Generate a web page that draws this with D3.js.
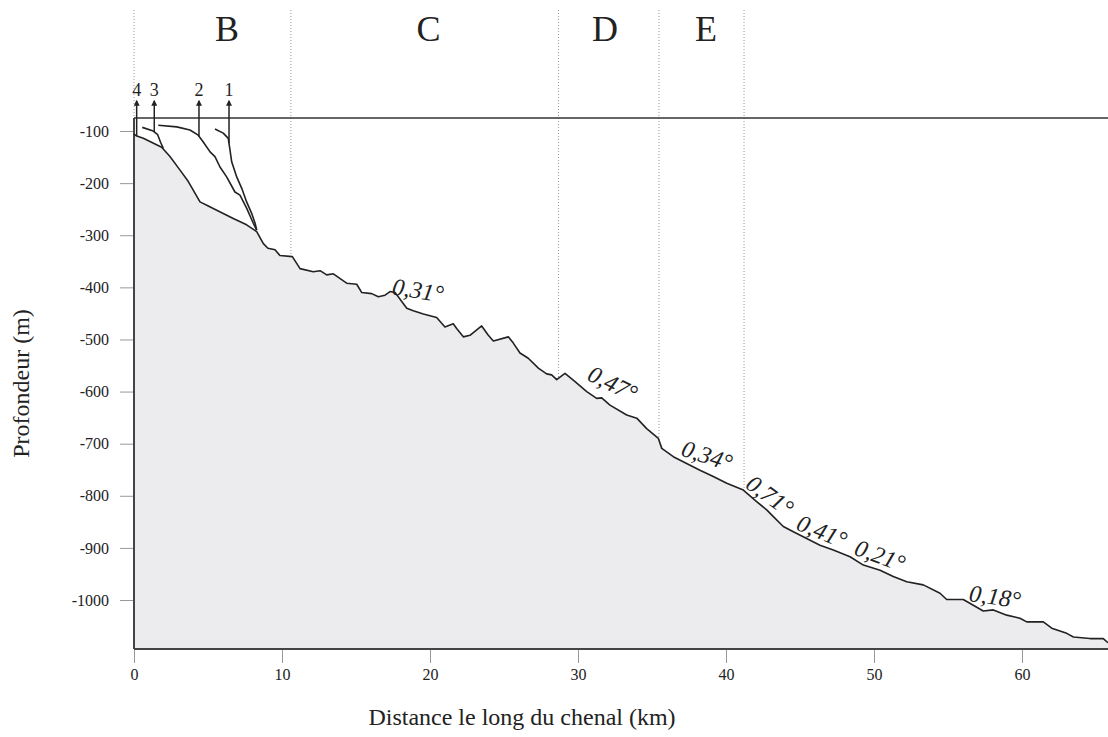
<!DOCTYPE html>
<html>
<head>
<meta charset="utf-8">
<script src="https://cdn.jsdelivr.net/npm/d3@7"></script>
<style>
  body { margin: 0; background: #fff; }
  text { font-family: "Liberation Serif", "Times New Roman", serif; fill: #222; }
</style>
</head>
<body>
<div id="chart"></div>
<script>
// Profile 4 (present-day channel floor), [km, depth m]
const profile4 = [
  [0, -106], [0.14, -109], [0.63, -114], [1.87, -131], [2.43, -149], [3.11, -175],
  [3.67, -197], [4.46, -236], [5.02, -244], [5.59, -252], [6.71, -268], [7.61, -280],
  [8.29, -293], [8.74, -316], [9.05, -325], [9.53, -328], [9.86, -339], [10.7, -341],
  [11.22, -364], [12.11, -370], [12.57, -368], [13.02, -376], [13.47, -374], [14.37, -392],
  [15.05, -394], [15.39, -410], [16.06, -412], [16.51, -418], [16.96, -415], [17.3, -408],
  [17.64, -410], [18.43, -440], [18.87, -445], [19.55, -451], [20.45, -458], [21.01, -476],
  [21.57, -470], [21.8, -479], [22.25, -495], [22.7, -492], [23.49, -474], [23.94, -492],
  [24.28, -503], [25.29, -495], [25.63, -507], [26.08, -526], [26.64, -536], [27.32, -555],
  [27.88, -566], [28.22, -568], [28.56, -577], [29.12, -565], [29.8, -581], [30.59, -600],
  [31.26, -613], [31.6, -612], [32.16, -626], [33.29, -645], [33.97, -651], [34.64, -671],
  [35.43, -690], [35.66, -709], [36.44, -725], [37.34, -738], [38.24, -751], [39.14, -763],
  [40.05, -776], [41.17, -789], [42.07, -811], [42.75, -827], [43.2, -840], [43.87, -859],
  [44.55, -869], [45.45, -882], [46.35, -895], [47.25, -904], [48.38, -917], [49.28, -933],
  [50.41, -943], [51.3, -955], [52.21, -965], [53.33, -971], [54.46, -987], [54.91, -999],
  [56.03, -999], [56.71, -1010], [57.38, -1021], [58.06, -1019], [58.97, -1029], [59.86, -1035],
  [60.32, -1042], [61.44, -1042], [62.01, -1054], [63.02, -1064], [63.47, -1071], [64.59, -1074],
  [65.49, -1074], [65.81, -1082]
];

// Older profiles 3, 2, 1 (they join profile 4 downstream)
const profile3 = [[0.56, -93], [1.3, -100], [1.6, -107], [1.8, -122], [1.98, -133]];
const profile2 = [
  [1.64, -89], [2.89, -92], [3.78, -98], [4.34, -108], [4.68, -121], [5.14, -140],
  [5.47, -149], [5.81, -169], [6.26, -188], [6.82, -217], [7.16, -223], [7.61, -248],
  [8.06, -277], [8.29, -290]
];
const profile1 = [
  [5.47, -96], [6.03, -104], [6.37, -114], [6.49, -137], [6.6, -159], [6.94, -188],
  [7.28, -210], [7.61, -236], [7.95, -258], [8.18, -277], [8.29, -290]
];

// Zones
const zoneBounds = [0, 10.6, 28.68, 35.47, 41.22];
const zoneLabels = ["B", "C", "D", "E"];
const zoneLabelKm = [6.28, 19.9, 31.82, 38.65];

// Arrows marking the head of each profile
const arrowLabels = ["4", "3", "2", "1"];
const arrowKm = [0.18, 1.37, 4.39, 6.42];
const arrowProfiles = [profile4, profile3, profile2, profile1];

// Slope labels
const slopeLabels = ["0,31°", "0,47°", "0,34°", "0,71°", "0,41°", "0,21°", "0,18°"];
const slopeKm = [19.19, 32.36, 38.72, 42.97, 46.49, 50.41, 58.18];
const slopeDepth = [-405, -584, -722, -799, -868, -914, -993];
const slopeRot = [9, 26, 18, 36, 22, 20, 8];

// Axis ticks
const xTicks = [0, 10, 20, 30, 40, 50, 60];
const yTicks = [-100, -200, -300, -400, -500, -600, -700, -800, -900, -1000];

const width = 1108, height = 737;
const margin = {top: 118, right: 0, bottom: 88, left: 134};

const svg = d3.select("#chart").append("svg")
  .attr("width", width)
  .attr("height", height);

const x = d3.scaleLinear().domain([0, 65.81]).range([margin.left, width - margin.right]);
const y = d3.scaleLinear().domain([-1094, -75]).range([height - margin.bottom, margin.top]);

function depthAt(prof, km) {
  const i = d3.bisector(d => d[0]).left(prof, km);
  if (i <= 0) return prof[0][1];
  if (i >= prof.length) return prof[prof.length - 1][1];
  const a = prof[i - 1], b = prof[i];
  return a[1] + (b[1] - a[1]) * (km - a[0]) / (b[0] - a[0]);
}

// Arrow marker
svg.append("defs").append("marker")
  .attr("id", "head")
  .attr("viewBox", "0 0 10 10")
  .attr("refX", 8).attr("refY", 5)
  .attr("markerWidth", 8).attr("markerHeight", 6)
  .attr("markerUnits", "userSpaceOnUse")
  .attr("orient", "auto")
  .append("path")
  .attr("d", "M0,0 L10,5 L0,10 Z")
  .attr("fill", "#222");

// Zone boundary dotted lines (from top down to the floor)
svg.append("g").selectAll("line")
  .data(zoneBounds)
  .join("line")
  .attr("x1", d => x(d)).attr("x2", d => x(d))
  .attr("y1", 10)
  .attr("y2", d => y(depthAt(profile4, d)))
  .attr("stroke", "#999")
  .attr("stroke-width", 1)
  .attr("stroke-dasharray", "1,2");

// Filled area under profile 4
const area = d3.area()
  .x(d => x(d[0]))
  .y0(y(-1094))
  .y1(d => y(d[1]));

svg.append("path")
  .datum(profile4)
  .attr("fill", "#ececee")
  .attr("d", area);

// Axes
const xAxis = svg.append("g")
  .attr("transform", `translate(0,${y(-1094)})`)
  .call(d3.axisBottom(x).tickValues(xTicks).tickSize(14).tickPadding(6).tickFormat(d => String(d)));
xAxis.select(".domain").remove();
xAxis.selectAll(".tick line").attr("stroke", "#999");
xAxis.selectAll(".tick text").attr("font-size", 16).attr("font-family", "Liberation Serif, serif").attr("fill", "#222");

const yAxis = svg.append("g")
  .attr("transform", `translate(${x(0)},0)`)
  .call(d3.axisLeft(y).tickValues(yTicks).tickSize(14).tickPadding(11).tickFormat(d => String(d)));
yAxis.select(".domain").remove();
yAxis.selectAll(".tick line").attr("stroke", "#999");
yAxis.selectAll(".tick text").attr("font-size", 16).attr("font-family", "Liberation Serif, serif").attr("fill", "#222");

// Frame lines: left, bottom, top
svg.append("line")
  .attr("x1", x(0)).attr("x2", x(0))
  .attr("y1", y(-75)).attr("y2", y(-1094))
  .attr("stroke", "#444").attr("stroke-width", 2);
svg.append("line")
  .attr("x1", x(0)).attr("x2", width)
  .attr("y1", y(-1094)).attr("y2", y(-1094))
  .attr("stroke", "#444").attr("stroke-width", 2);
svg.append("line")
  .attr("x1", x(0)).attr("x2", width)
  .attr("y1", y(-75)).attr("y2", y(-75))
  .attr("stroke", "#333").attr("stroke-width", 1.5);

// Profile lines
const line = d3.line().x(d => x(d[0])).y(d => y(d[1]));
[profile4, profile3, profile2, profile1].forEach(p => {
  svg.append("path")
    .datum(p)
    .attr("fill", "none")
    .attr("stroke", "#222")
    .attr("stroke-width", 1.6)
    .attr("stroke-linejoin", "round")
    .attr("d", line);
});

// Arrows + numbers
const arrowTop = y(-75) - 17;
arrowKm.forEach((km, i) => {
  svg.append("line")
    .attr("x1", x(km)).attr("x2", x(km))
    .attr("y1", y(depthAt(arrowProfiles[i], km)))
    .attr("y2", arrowTop)
    .attr("stroke", "#222")
    .attr("stroke-width", 1.5)
    .attr("marker-end", "url(#head)");
  svg.append("text")
    .attr("x", x(km))
    .attr("y", arrowTop - 5)
    .attr("text-anchor", "middle")
    .attr("font-size", 18)
    .text(arrowLabels[i]);
});

// Zone labels
svg.append("g").selectAll("text")
  .data(zoneLabels)
  .join("text")
  .attr("x", (d, i) => x(zoneLabelKm[i]))
  .attr("y", 41)
  .attr("text-anchor", "middle")
  .attr("font-size", 36)
  .text(d => d);

// Slope labels
slopeLabels.forEach((s, i) => {
  svg.append("text")
    .attr("transform", `translate(${x(slopeKm[i])},${y(slopeDepth[i])}) rotate(${slopeRot[i]})`)
    .attr("text-anchor", "middle")
    .attr("dy", "0.35em")
    .attr("font-size", 24)
    .attr("font-style", "italic")
    .text(s);
});

// Axis titles
svg.append("text")
  .attr("x", 522)
  .attr("y", 725)
  .attr("text-anchor", "middle")
  .attr("font-size", 24)
  .text("Distance le long du chenal (km)");

svg.append("text")
  .attr("transform", `translate(29,${(y(-75) + y(-1094)) / 2}) rotate(-90)`)
  .attr("text-anchor", "middle")
  .attr("font-size", 24)
  .text("Profondeur (m)");
</script>
</body>
</html>
